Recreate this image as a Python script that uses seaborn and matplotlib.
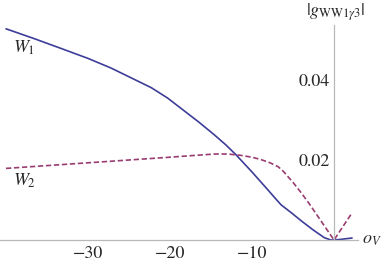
import matplotlib
matplotlib.use("Agg")
import matplotlib.pyplot as plt
import seaborn as sns
import pandas as pd

# curve W1 (solid)
w1_x = [-40, -36.5, -33.3, -30, -27.2, -24.7, -22.3, -20.3, -18.4, -16.5, -14.6,
        -13.2, -11.95, -10, -8.05, -7.2, -6.46, -5.2, -4.0, -2.6, -1.2, -0.4, 0,
        1.0, 2.2]
w1_y = [0.0528, 0.0503, 0.0479, 0.0454, 0.0430, 0.0405, 0.0381, 0.0355, 0.0325,
        0.0295, 0.0263, 0.0238, 0.0213, 0.0170, 0.0125, 0.0105, 0.0088, 0.0068,
        0.0048, 0.0026, 0.0006, 0.0, 0.0, 0.0002, 0.0005]

# curve W2 (dashed)
w2_x = [-40, -35, -30, -25, -20, -16.3, -14.5, -13, -11.5, -10, -8.9, -7.8, -6.8,
        -6.2, -5, -4, -3, -2, -1, 0, 1, 2.2]
w2_y = [0.0179, 0.0186, 0.0193, 0.0200, 0.0207, 0.02125, 0.0215, 0.0215, 0.0212,
        0.0207, 0.0201, 0.0193, 0.0183, 0.0172, 0.0144, 0.0118, 0.0090, 0.0060,
        0.0030, 0.0, 0.0031, 0.0068]

x_ticks = [-30, -20, -10]
y_ticks = [0.02, 0.04]
y_tick_labels = ["0.02", "0.04"]

sns.set_style("white")
plt.rcParams['font.family'] = ['STIXGeneral', 'DejaVu Sans']
plt.rcParams['mathtext.fontset'] = 'stix'

blue = (0.24, 0.24, 0.6)
purple = (0.6, 0.24, 0.442)
axis_gray = "#b8b8b8"

fig = plt.figure(figsize=(3.82, 2.6), dpi=100)
ax = fig.add_axes([0, 0, 1, 1])

df1 = pd.DataFrame({"x": w1_x, "y": w1_y})
df2 = pd.DataFrame({"x": w2_x, "y": w2_y})
sns.lineplot(data=df1, x="x", y="y", ax=ax, color=blue, lw=1.2, sort=False)
sns.lineplot(data=df2, x="x", y="y", ax=ax, color=purple, lw=1.2, sort=False,
             dashes=False, linestyle=(0, (3.2, 1.6)))

ax.set_xlim(-40.73, 5.85)
ax.set_ylim(-0.005, 0.06)

for s in ["top", "right"]:
    ax.spines[s].set_visible(False)
ax.spines["left"].set_position(("data", 0))
ax.spines["bottom"].set_position(("data", 0))
ax.spines["left"].set_bounds(0, 0.0537)
ax.spines["bottom"].set_bounds(-40.73, 2.9)
for s in ["left", "bottom"]:
    ax.spines[s].set_color(axis_gray)
    ax.spines[s].set_linewidth(0.9)

ax.set_xticks(x_ticks)
ax.set_xticklabels([f"\u2212{abs(t)}" for t in x_ticks])
ax.set_yticks(y_ticks)
ax.set_yticklabels(y_tick_labels)
ax.tick_params(axis="x", direction="in", length=3, color=axis_gray, pad=4, labelsize=13)
ax.tick_params(axis="y", direction="out", length=2, color=axis_gray, pad=1, labelsize=13)
ax.set_xlabel("")
ax.set_ylabel("")

ax.text(-37.8, 0.048, r"$W_1$", fontsize=13, ha="center", va="center")
ax.text(-37.8, 0.0147, r"$W_2$", fontsize=13, ha="center", va="center")
ax.text(0.2, 0.057, r"$|g_{\mathrm{WW}1\gamma 3}|$", fontsize=13, ha="center", va="center")
ax.text(3.4, 0.0, r"$o_V$", fontsize=13, ha="left", va="center")

fig.savefig("out.png", dpi=100)
